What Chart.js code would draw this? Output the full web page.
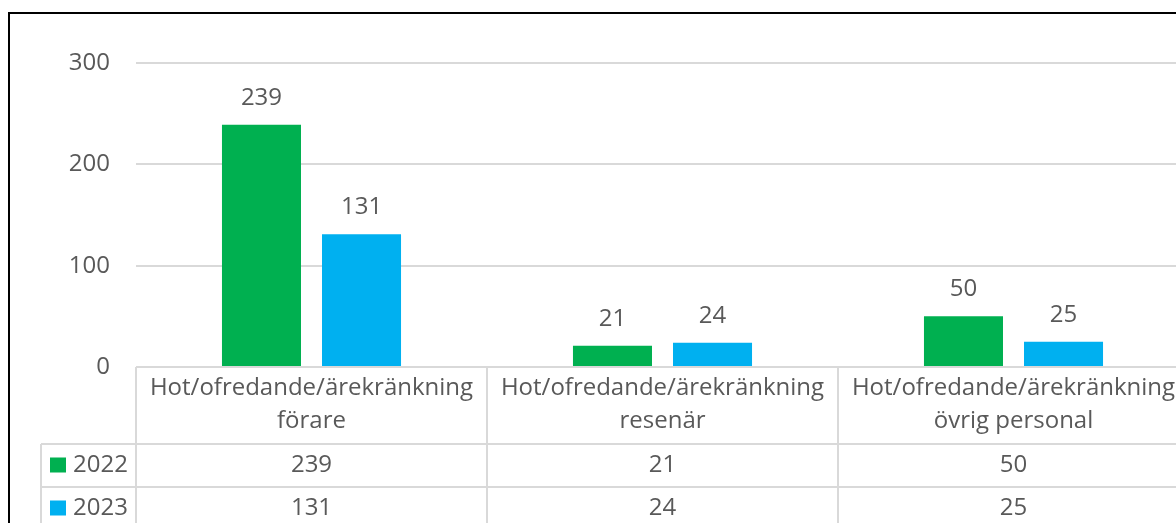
<!DOCTYPE html>
<html>
<head>
<meta charset="utf-8">
<script src="https://cdn.jsdelivr.net/npm/chart.js@4"></script>
<style>
  html, body { margin: 0; padding: 0; background: #fff; overflow: hidden; }
  #wrap { position: absolute; left: 0; top: 0; width: 1176px; height: 523px; overflow: hidden; }
</style>
</head>
<body>
<div id="wrap"><canvas id="chart" width="1220" height="560"></canvas></div>
<script>
// data
const categories = [
    ['Hot/ofredande/ärekränkning', 'förare'],
    ['Hot/ofredande/ärekränkning', 'resenär'],
    ['Hot/ofredande/ärekränkning', 'övrig personal']
];
const seriesNames = ['2022', '2023'];
const values2022 = [239, 21, 50];
const values2023 = [131, 24, 25];
const yTicks = [0, 100, 200, 300];

const GREEN = '#00B050';
const BLUE = '#00B0F0';
const TEXT = '#595959';
const LINE = '#d9d9d9';
const FONT = '"Open Sans", sans-serif';
const FONT_SIZE = 24;

// value labels above bars
const barLabels = {
    id: 'barLabels',
    afterDatasetsDraw(chart) {
        const ctx = chart.ctx;
        ctx.save();
        ctx.fillStyle = TEXT;
        ctx.font = FONT_SIZE + 'px ' + FONT;
        ctx.textAlign = 'center';
        ctx.textBaseline = 'middle';
        chart.data.datasets.forEach((ds, i) => {
            chart.getDatasetMeta(i).data.forEach((bar, j) => {
                ctx.fillText(String(ds.data[j]), bar.x, bar.y - 27);
            });
        });
        ctx.restore();
    }
};

// Excel style data table under the plot
const dataTable = {
    id: 'dataTable',
    afterDraw(chart) {
        const ctx = chart.ctx;
        const area = chart.chartArea;
        const x = chart.scales.x;
        const n = categories.length;
        const catW = (area.right - area.left) / n;
        const top = area.bottom;
        const headH = 77;
        const rowH = 43;
        const leftCol = 41;
        const far = chart.width + 10;

        ctx.save();
        ctx.strokeStyle = LINE;
        ctx.lineWidth = 2;
        ctx.beginPath();
        // horizontal lines
        ctx.moveTo(leftCol, top + headH); ctx.lineTo(far, top + headH);
        ctx.moveTo(leftCol, top + headH + rowH); ctx.lineTo(far, top + headH + rowH);
        // vertical lines
        ctx.moveTo(leftCol, top + headH); ctx.lineTo(leftCol, chart.height);
        for (let i = 0; i <= n; i++) {
            const vx = area.left + i * catW;
            ctx.moveTo(vx, top); ctx.lineTo(vx, chart.height);
        }
        ctx.stroke();

        ctx.fillStyle = TEXT;
        ctx.font = FONT_SIZE + 'px ' + FONT;
        ctx.textAlign = 'center';
        ctx.textBaseline = 'middle';
        categories.forEach((lines, i) => {
            const cx = x.getPixelForValue(i);
            ctx.fillText(lines[0], cx, top + 21);
            ctx.fillText(lines[1], cx, top + 54);
        });

        const rows = [values2022, values2023];
        const colors = [GREEN, BLUE];
        rows.forEach((vals, r) => {
            const cy = top + headH + rowH * r + rowH / 2;
            vals.forEach((v, i) => {
                ctx.fillText(String(v), x.getPixelForValue(i), cy);
            });
            ctx.fillStyle = colors[r];
            ctx.fillRect(50, cy - 8, 16, 15);
            ctx.fillStyle = TEXT;
            ctx.textAlign = 'left';
            ctx.fillText(seriesNames[r], 73, cy);
            ctx.textAlign = 'center';
        });

        // outer chart frame
        ctx.strokeStyle = '#000';
        ctx.lineWidth = 2;
        ctx.strokeRect(9, 13, 3000, 3000);
        ctx.restore();
    }
};

new Chart(document.getElementById('chart'), {
    type: 'bar',
    data: {
        labels: categories.map(c => c.join(' ')),
        datasets: [
            { label: seriesNames[0], data: values2022, backgroundColor: GREEN },
            { label: seriesNames[1], data: values2023, backgroundColor: BLUE }
        ]
    },
    options: {
        responsive: false,
        animation: false,
        devicePixelRatio: 1,
        categoryPercentage: 0.57,
        barPercentage: 0.79,
        layout: { padding: { left: 0, top: 63, right: 31, bottom: 193 } },
        plugins: {
            legend: { display: false },
            tooltip: { enabled: false }
        },
        scales: {
            x: {
                display: false
            },
            y: {
                min: 0,
                max: 300,
                afterFit: s => { s.width = 136; },
                afterBuildTicks: s => { s.ticks = yTicks.map(v => ({ value: v })); },
                border: { display: false },
                grid: { color: LINE, lineWidth: 2, drawTicks: false },
                ticks: {
                    color: TEXT,
                    padding: 26,
                    font: { family: FONT, size: FONT_SIZE }
                }
            }
        }
    },
    plugins: [barLabels, dataTable]
});
</script>
</body>
</html>
